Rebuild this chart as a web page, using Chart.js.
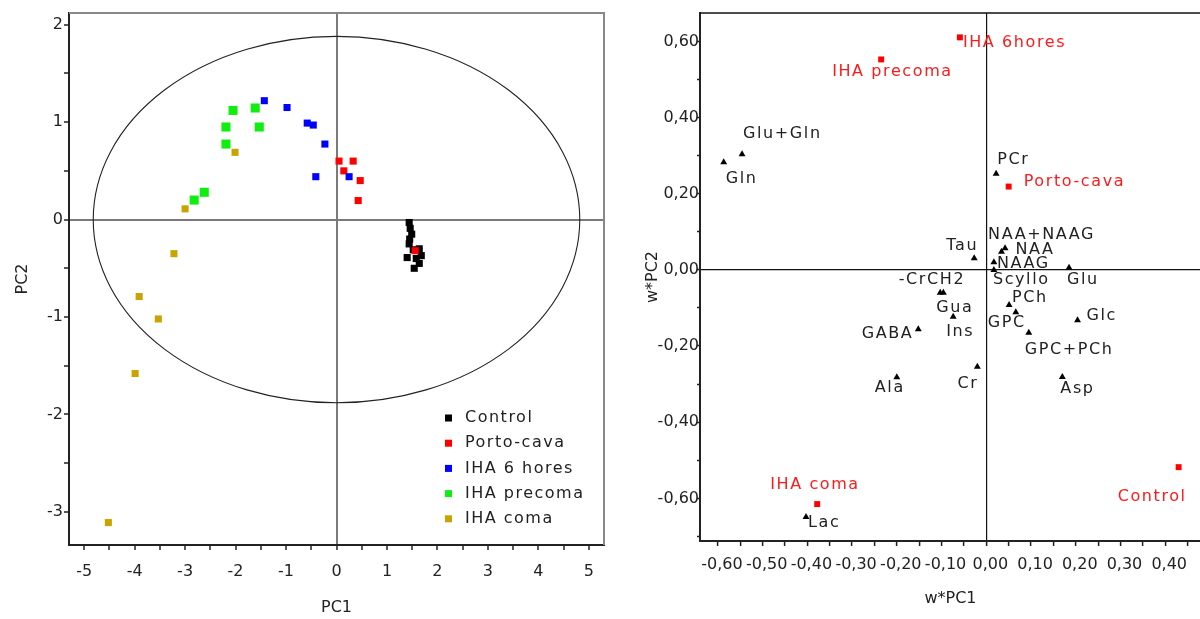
<!DOCTYPE html>
<html>
<head>
<meta charset="utf-8">
<script src="https://cdn.jsdelivr.net/npm/chart.js@4.4.1/dist/chart.umd.min.js"></script>
<style>
html, body { margin: 0; padding: 0; background: #fff; overflow: hidden; width: 1200px; height: 619px; }
#scoreChart { position: absolute; left: 0; top: 0; }
#loadingChart { position: absolute; left: 620px; top: 0; }
</style>
</head>
<body>
<canvas id="scoreChart" width="615" height="619"></canvas>
<canvas id="loadingChart" width="620" height="619"></canvas>
<script>
// score plot (PC1 / PC2)
const groupNames = ['Control', 'Porto-cava', 'IHA 6 hores', 'IHA precoma', 'IHA coma'];
const groupColors = ['#000000', '#ff0000', '#0000ff', '#10ee10', '#c9a300'];

const controlScores = [[1.44, -0.03], [1.46, -0.09], [1.49, -0.15], [1.45, -0.20], [1.44, -0.25], [1.52, -0.31],
    [1.64, -0.30], [1.68, -0.37], [1.40, -0.39], [1.58, -0.40], [1.64, -0.45], [1.54, -0.50]];
const portoCavaScores = [[0.05, 0.60], [0.33, 0.60], [0.145, 0.50], [0.47, 0.40], [0.43, 0.195], [1.56, -0.32]];
const iha6hScores = [[-1.43, 1.22], [-0.98, 1.15], [-0.58, 0.99], [-0.46, 0.97], [-0.23, 0.775], [-0.41, 0.44], [0.25, 0.44]];
const ihaPrecomaScores = [[-2.05, 1.12], [-1.61, 1.145], [-2.19, 0.95], [-1.53, 0.95], [-2.19, 0.775], [-2.62, 0.28], [-2.82, 0.20]];
const ihaComaScores = [[-2.01, 0.69], [-3.0, 0.11], [-3.22, -0.35], [-3.91, -0.79], [-3.53, -1.02], [-3.99, -1.58], [-4.52, -3.11]];
const scoreData = [controlScores, portoCavaScores, iha6hScores, ihaPrecomaScores, ihaComaScores];

// Hotelling ellipse semi axes
const ellipseRadiusX = 4.82;
const ellipseRadiusY = 1.88;

// loading plot (w*PC1 / w*PC2)
const metaboliteNames = ['Glu+Gln', 'Gln', 'PCr', 'Tau', 'NAA+NAAG', 'NAA', 'NAAG', 'Scyllo', 'Glu', '-CrCH2', 'Gua',
    'Ins', 'PCh', 'GPC', 'GPC+PCh', 'Glc', 'GABA', 'Cr', 'Ala', 'Asp', 'Lac'];
const metaboliteLoadings = [[-0.546, 0.304], [-0.587, 0.283], [0.022, 0.253], [-0.027, 0.031], [0.042, 0.057], [0.034, 0.048],
    [0.017, 0.020], [0.017, 0.000], [0.185, 0.006], [-0.103, -0.060], [-0.096, -0.060], [-0.074, -0.123], [0.051, -0.092],
    [0.066, -0.111], [0.095, -0.165], [0.204, -0.132], [-0.152, -0.156], [-0.020, -0.254], [-0.200, -0.282], [0.170, -0.281],
    [-0.403, -0.649]];
const groupLoadingNames = ['IHA precoma', 'IHA 6hores', 'Porto-cava', 'IHA coma', 'Control'];
const groupLoadings = [[-0.235, 0.553], [-0.059, 0.611], [0.050, 0.219], [-0.378, -0.615], [0.430, -0.518]];

// where each label sits relative to its point: [dx px, dy px, align]
const metaboliteLabelPos = [[1, -20, 'left'], [2, 17, 'left'], [1, -14, 'left'], [4, -12, 'right'], [-17, -13, 'left'],
    [14, -2, 'left'], [3, 1, 'left'], [-1, 10, 'left'], [-2, 12, 'left'], [25, -13, 'right'], [-7, 15, 'left'],
    [-7, 15, 'left'], [3, -7, 'left'], [-28, 11, 'left'], [-4, 17, 'left'], [9, -4, 'left'], [-5, 5, 'right'],
    [1, 17, 'right'], [-22, 11, 'left'], [-2, 12, 'left'], [2, 6, 'left']];
const groupLabelPos = [[-49, 12, 'left'], [3, 5, 'left'], [15, -5, 'left'], [-47, -19, 'left'], [-61, 30, 'left']];

Chart.defaults.font.family = "'DejaVu Sans', sans-serif";
Chart.defaults.font.size = 16;
Chart.defaults.color = '#222';

function isStep(v, step) {
    return Math.abs(v / step - Math.round(v / step)) < 1e-6;
}

// ticks at every multiple of step between the axis limits
function stepTicks(step) {
    return function(s) {
        var ticks = [];
        for (var k = Math.ceil(s.min / step - 1e-9); k * step <= s.max + 1e-9; k++) {
            ticks.push({ value: Math.round(k * step * 1e6) / 1e6 });
        }
        s.ticks = ticks;
    };
}

function commaLabel(v) {
    var r = Math.round(v * 100) / 100;
    if (Math.abs(r) < 1e-9) r = 0;
    return r.toFixed(2).replace('.', ',');
}

const scoreFramePlugin = {
    id: 'scoreFrame',
    beforeDatasetsDraw(chart) {
        var ctx = chart.ctx, x = chart.scales.x, y = chart.scales.y, a = chart.chartArea;
        var cx = x.getPixelForValue(0), cy = y.getPixelForValue(0);
        var rx = x.getPixelForValue(ellipseRadiusX) - cx;
        var ry = cy - y.getPixelForValue(ellipseRadiusY);
        ctx.save();
        ctx.beginPath();
        ctx.ellipse(cx, cy, rx, ry, 0, 0, Math.PI * 2);
        ctx.strokeStyle = '#222';
        ctx.lineWidth = 1.1;
        ctx.stroke();
        ctx.beginPath();
        ctx.moveTo(a.left, a.top);
        ctx.lineTo(a.right, a.top);
        ctx.lineTo(a.right, a.bottom);
        ctx.strokeStyle = '#888';
        ctx.lineWidth = 2;
        ctx.stroke();
        ctx.restore();
    },
    afterDraw(chart) {
        var ctx = chart.ctx;
        ctx.save();
        ctx.font = "16px 'DejaVu Sans'";
        ctx.letterSpacing = '1.5px';
        ctx.textBaseline = 'middle';
        chart.data.datasets.forEach(function(ds, i) {
            var yy = 418 + i * 25.2;
            ctx.fillStyle = ds.backgroundColor;
            ctx.fillRect(445, yy - 3.5, 7, 7);
            ctx.fillStyle = '#222';
            ctx.fillText(ds.label, 465, yy);
        });
        ctx.restore();
    }
};

var scoreChart = new Chart(document.getElementById('scoreChart'), {
    type: 'scatter',
    data: {
        datasets: groupNames.map(function(name, i) {
            return {
                label: name,
                data: scoreData[i].map(p => ({ x: p[0], y: p[1] })),
                pointStyle: 'rect',
                pointRadius: i === 3 ? 6.4 : 5,
                backgroundColor: groupColors[i],
                borderWidth: 0,
                order: 5 - i
            };
        })
    },
    options: {
        responsive: false,
        animation: false,
        layout: { padding: { left: 0, top: 13, right: 11, bottom: 0 } },
        plugins: { legend: { display: false }, tooltip: { enabled: false } },
        scales: {
            x: {
                type: 'linear', min: -5.3, max: 5.3,
                afterBuildTicks: stepTicks(0.5),
                afterFit: s => { s.height = 74; },
                ticks: { autoSkip: false, maxRotation: 0, padding: 12,
                    callback: v => isStep(v, 1) ? String(Math.round(v)) : '' },
                grid: { color: c => (c.tick && Math.abs(c.tick.value) < 1e-6) ? '#7a7a7a' : 'transparent',
                    lineWidth: 2, tickColor: '#222', tickLength: 5, tickWidth: 1.5 },
                border: { color: '#222', width: 2 },
                title: { display: true, text: 'PC1', padding: { top: 4, bottom: 2 } }
            },
            y: {
                type: 'linear', min: -3.34, max: 2.12,
                afterBuildTicks: stepTicks(0.5),
                afterFit: s => { s.width = 69; },
                ticks: { autoSkip: false, padding: 1,
                    callback: v => isStep(v, 1) ? String(Math.round(v)) : '' },
                grid: { color: c => (c.tick && Math.abs(c.tick.value) < 1e-6) ? '#7a7a7a' : 'transparent',
                    lineWidth: 2, tickColor: '#222', tickLength: 5, tickWidth: 1.5 },
                border: { color: '#222', width: 2 },
                title: { display: true, text: 'PC2', padding: { top: 13, bottom: 4 } }
            }
        }
    },
    plugins: [scoreFramePlugin]
});

const loadingLabelPlugin = {
    id: 'loadingLabels',
    beforeDatasetsDraw(chart) {
        var ctx = chart.ctx, a = chart.chartArea;
        ctx.save();
        ctx.beginPath();
        ctx.moveTo(a.left, a.top);
        ctx.lineTo(a.right + 20, a.top);
        ctx.strokeStyle = '#111';
        ctx.lineWidth = 1.5;
        ctx.stroke();
        ctx.restore();
    },
    afterDatasetsDraw(chart) {
        var ctx = chart.ctx;
        ctx.save();
        ctx.font = "16px 'DejaVu Sans'";
        ctx.letterSpacing = '1.6px';
        ctx.textBaseline = 'middle';
        chart.data.datasets.forEach(function(ds, di) {
            var meta = chart.getDatasetMeta(di);
            ctx.fillStyle = ds.labelColor;
            meta.data.forEach(function(pt, i) {
                var pos = ds.labelPos[i];
                ctx.textAlign = pos[2];
                ctx.fillText(ds.names[i], pt.x + pos[0], pt.y + pos[1]);
            });
        });
        ctx.restore();
    }
};

var loadingChart = new Chart(document.getElementById('loadingChart'), {
    type: 'scatter',
    data: {
        datasets: [{
            label: 'metabolites',
            data: metaboliteLoadings.map(p => ({ x: p[0], y: p[1] })),
            names: metaboliteNames,
            labelPos: metaboliteLabelPos,
            labelColor: '#222',
            pointStyle: 'triangle',
            pointRadius: 4,
            backgroundColor: '#000',
            borderWidth: 0
        }, {
            label: 'groups',
            data: groupLoadings.map(p => ({ x: p[0], y: p[1] })),
            names: groupLoadingNames,
            labelPos: groupLabelPos,
            labelColor: '#ff1a1a',
            pointStyle: 'rect',
            pointRadius: 4.2,
            backgroundColor: '#ff0000',
            borderWidth: 0
        }]
    },
    options: {
        responsive: false,
        animation: false,
        layout: { padding: { left: 0, top: 13, right: 39, bottom: 0 } },
        plugins: { legend: { display: false }, tooltip: { enabled: false } },
        scales: {
            x: {
                type: 'linear', min: -0.64, max: 0.48,
                afterBuildTicks: stepTicks(0.05),
                afterFit: s => { s.height = 78; },
                ticks: { autoSkip: false, maxRotation: 0, padding: 9, labelOffset: 4,
                    callback: v => isStep(v, 0.1) ? commaLabel(v) : '' },
                grid: { color: c => (c.tick && Math.abs(c.tick.value) < 1e-6) ? '#111' : 'transparent',
                    lineWidth: 1.2, tickColor: '#222', tickLength: 5, tickWidth: 1.5 },
                border: { color: '#222', width: 2 },
                title: { display: true, text: 'w*PC1', padding: { top: 4, bottom: 11 } }
            },
            y: {
                type: 'linear', min: -0.712, max: 0.675,
                afterBuildTicks: stepTicks(0.1),
                afterFit: s => { s.width = 80; },
                ticks: { autoSkip: false, padding: -2,
                    callback: v => isStep(v, 0.2) ? commaLabel(v) : '' },
                grid: { color: c => (c.tick && Math.abs(c.tick.value) < 1e-6) ? '#111' : 'transparent',
                    lineWidth: 1.2, tickColor: '#222', tickLength: 3, tickWidth: 1.5 },
                border: { color: '#222', width: 2 },
                title: { display: true, text: 'w*PC2', padding: { top: 23, bottom: 4 } }
            }
        }
    },
    plugins: [loadingLabelPlugin]
});
</script>
</body>
</html>
